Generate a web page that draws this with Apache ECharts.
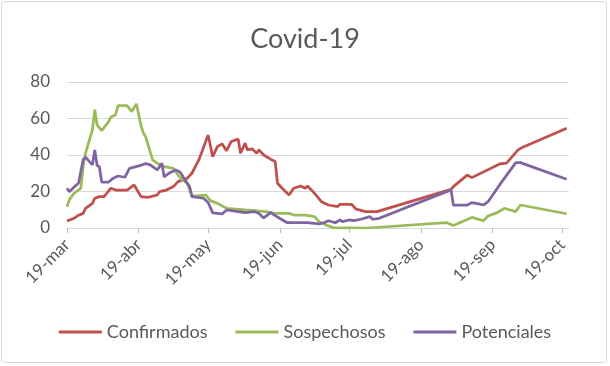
<!DOCTYPE html>
<html>
<head>
<meta charset="utf-8">
<script src="https://cdn.jsdelivr.net/npm/echarts@6/dist/echarts.min.js"></script>
<style>
html,body{margin:0;padding:0;background:#fff;}
#chart{width:610px;height:366px;}
</style>
</head>
<body>
<div id="chart"></div>
<script>
const seriesNames = ['Confirmados', 'Sospechosos', 'Potenciales'];
const tickDates = ['2020-03-19','2020-04-19','2020-05-19','2020-06-19','2020-07-19','2020-08-19','2020-09-19','2020-10-19'];
const tickLabels = ['19-mar','19-abr','19-may','19-jun','19-jul','19-ago','19-sep','19-oct'];
const yTicks = [0, 20, 40, 60, 80];

const confirmados = [
  ['2020-03-19',3.8],['2020-03-22',5.3],['2020-03-24',7],['2020-03-26',8],['2020-03-27',10.8],
  ['2020-03-30',13.5],['2020-03-31',16.3],['2020-04-02',17.2],['2020-04-04',17.2],['2020-04-07',21.8],
  ['2020-04-09',20.8],['2020-04-14',20.8],['2020-04-17',23.6],['2020-04-20',17.2],['2020-04-23',16.8],
  ['2020-04-27',18.1],['2020-04-28',19.9],['2020-05-01',20.8],['2020-05-04',22.7],['2020-05-06',25.4],
  ['2020-05-10',27.3],['2020-05-12',30],['2020-05-15',37.3],['2020-05-19',51],['2020-05-21',39.1],
  ['2020-05-23',44.6],['2020-05-25',46.1],['2020-05-27',42.4],['2020-05-29',47.4],['2020-06-01',48.7],
  ['2020-06-02',41],['2020-06-04',46.5],['2020-06-05',42.8],['2020-06-07',43.4],['2020-06-09',41],
  ['2020-06-10',42.8],['2020-06-12',40],['2020-06-15',37.7],['2020-06-17',36.4],['2020-06-18',24.5],
  ['2020-06-20',21.8],['2020-06-23',18.1],['2020-06-25',21.8],['2020-06-28',23],['2020-06-30',21.8],
  ['2020-07-01',23],['2020-07-04',19],['2020-07-07',14.4],['2020-07-10',12.6],['2020-07-14',11.7],
  ['2020-07-15',13],['2020-07-20',13],['2020-07-22',10.3],['2020-07-26',9],['2020-07-31',9],
  ['2020-09-01',21.2],['2020-09-02',22.7],['2020-09-08',29],['2020-09-10',27.6],['2020-09-22',35.1],
  ['2020-09-25',35.5],['2020-09-30',42.8],['2020-10-02',44.3],['2020-10-21',54.7]
];
const sospechosos = [
  ['2020-03-19',11.7],['2020-03-20',15.4],['2020-03-22',19],['2020-03-25',21.8],['2020-03-26',33.6],
  ['2020-03-27',41],['2020-03-30',53.8],['2020-03-31',64.8],['2020-04-01',56.5],['2020-04-03',53.4],
  ['2020-04-06',58.3],['2020-04-07',60.8],['2020-04-09',62],['2020-04-10',67],['2020-04-14',67],
  ['2020-04-16',63.8],['2020-04-18',68],['2020-04-20',56],['2020-04-21',52],['2020-04-22',50],
  ['2020-04-25',37.3],['2020-04-27',35.5],['2020-04-30',33.6],['2020-05-04',32.7],['2020-05-06',29],
  ['2020-05-08',26.3],['2020-05-10',24.5],['2020-05-12',17.5],['2020-05-18',18],['2020-05-20',15],
  ['2020-05-23',13.5],['2020-05-27',10.8],['2020-06-04',9.9],['2020-06-13',9],['2020-06-17',8],
  ['2020-06-23',8],['2020-06-25',7.1],['2020-06-30',7.1],['2020-07-04',6.2],['2020-07-06',3.5],
  ['2020-07-09',1.6],['2020-07-12',0.2],['2020-07-27',0],['2020-08-30',3],['2020-09-02',1.4],
  ['2020-09-10',5.8],['2020-09-15',4],['2020-09-17',6.6],['2020-09-21',8.4],['2020-09-24',10.8],
  ['2020-09-29',9],['2020-10-01',12.6],['2020-10-21',7.8]
];
const potenciales = [
  ['2020-03-19',21.8],['2020-03-20',19.9],['2020-03-23',23.5],['2020-03-24',24.5],['2020-03-26',37.5],
  ['2020-03-27',38.8],['2020-03-29',36],['2020-03-30',34.6],['2020-03-31',42.8],['2020-04-01',34.3],
  ['2020-04-02',33.5],['2020-04-03',25.2],['2020-04-06',25.2],['2020-04-08',27.3],['2020-04-10',28.5],
  ['2020-04-13',27.8],['2020-04-15',32.7],['2020-04-19',34],['2020-04-22',35.3],['2020-04-24',34.6],
  ['2020-04-27',31.8],['2020-04-29',35.5],['2020-04-30',28],['2020-05-02',30],['2020-05-05',31.8],
  ['2020-05-07',30.5],['2020-05-09',26.3],['2020-05-11',22.7],['2020-05-12',17.2],['2020-05-17',16.3],
  ['2020-05-19',14],['2020-05-21',8.3],['2020-05-25',7.7],['2020-05-27',9.9],['2020-06-01',9],
  ['2020-06-04',8.4],['2020-06-08',9],['2020-06-10',8],['2020-06-12',5.5],['2020-06-15',8.4],
  ['2020-06-18',6],['2020-06-22',3],['2020-07-01',3],['2020-07-06',2.2],['2020-07-08',2.9],
  ['2020-07-10',4],['2020-07-13',2.9],['2020-07-15',4.4],['2020-07-16',3.5],['2020-07-19',4.4],
  ['2020-07-21',4],['2020-07-24',4.8],['2020-07-28',6.2],['2020-07-29',4.8],['2020-08-01',5.3],
  ['2020-09-01',20.9],['2020-09-02',12.6],['2020-09-08',12.6],['2020-09-10',13.9],['2020-09-13',13.2],
  ['2020-09-15',12.6],['2020-09-17',14.4],['2020-09-22',23.6],['2020-09-29',35.8],['2020-10-01',35.8],
  ['2020-10-21',26.7]
];

// day offset from the first date (UTC, so no DST drift)
const START = '2020-03-19', END = '2020-10-22';
function day(s){ const p = s.split('-'); return Math.round((Date.UTC(+p[0], +p[1]-1, +p[2]) - Date.UTC(2020, 2, 19)) / 86400000); }
function conv(arr){ return arr.map(d => [day(d[0]), d[1]]); }
const tickDays = tickDates.map(day);
const colors = ['#C0504D', '#9BBB59', '#8064A2'];
const FONT = 'Lato';
const TXT = '#595959';

const chart = echarts.init(document.getElementById('chart'), null, {renderer:'canvas'});
chart.setOption({
  animation: false,
  color: colors,
  textStyle: {fontFamily: FONT},
  title: {
    text: 'Covid-19', left: 'center', top: 21,
    textStyle: {fontFamily: FONT, fontSize: 27, fontWeight: 'normal', color: TXT}
  },
  graphic: [{
    type: 'rect', shape: {x: 1.5, y: 1.5, width: 605, height: 361, r: 3},
    style: {fill: 'none', stroke: '#d9d9d9', lineWidth: 1}, silent: true, z: -1
  }],
  legend: {
    bottom: 20, left: 'center', icon: 'rect', itemWidth: 43, itemHeight: 3, itemGap: 28,
    data: seriesNames,
    textStyle: {fontFamily: FONT, fontSize: 18, color: TXT, padding: [0, 0, 0, 0]}
  },
  grid: {left: 67, right: 41, top: 82, bottom: 138, containLabel: false},
  xAxis: {
    type: 'value',
    min: day(START), max: day(END),
    axisLine: {show: true, onZero: false, lineStyle: {color: '#d9d9d9', width: 1}},
    axisTick: {show: true, customValues: tickDays, length: 5, lineStyle: {color: '#bfbfbf'}},
    splitLine: {show: false},
    axisLabel: {
      customValues: tickDays, rotate: 45, margin: 14,
      fontFamily: FONT, fontSize: 17, color: TXT,
      formatter: function(v){ const i = tickDays.indexOf(v); return i >= 0 ? tickLabels[i] : ''; }
    }
  },
  yAxis: {
    type: 'value', min: yTicks[0], max: yTicks[yTicks.length-1], interval: 20,
    axisLine: {show: false}, axisTick: {show: false},
    splitLine: {lineStyle: {color: '#d9d9d9', width: 1}},
    axisLabel: {fontFamily: FONT, fontSize: 17, color: TXT, margin: 17}
  },
  series: [
    {name: seriesNames[0], type: 'line', data: conv(confirmados), symbol: 'none', lineStyle: {width: 2.75, color: colors[0]}},
    {name: seriesNames[1], type: 'line', data: conv(sospechosos), symbol: 'none', lineStyle: {width: 2.75, color: colors[1]}},
    {name: seriesNames[2], type: 'line', data: conv(potenciales), symbol: 'none', lineStyle: {width: 2.75, color: colors[2]}}
  ]
});
</script>
</body>
</html>
